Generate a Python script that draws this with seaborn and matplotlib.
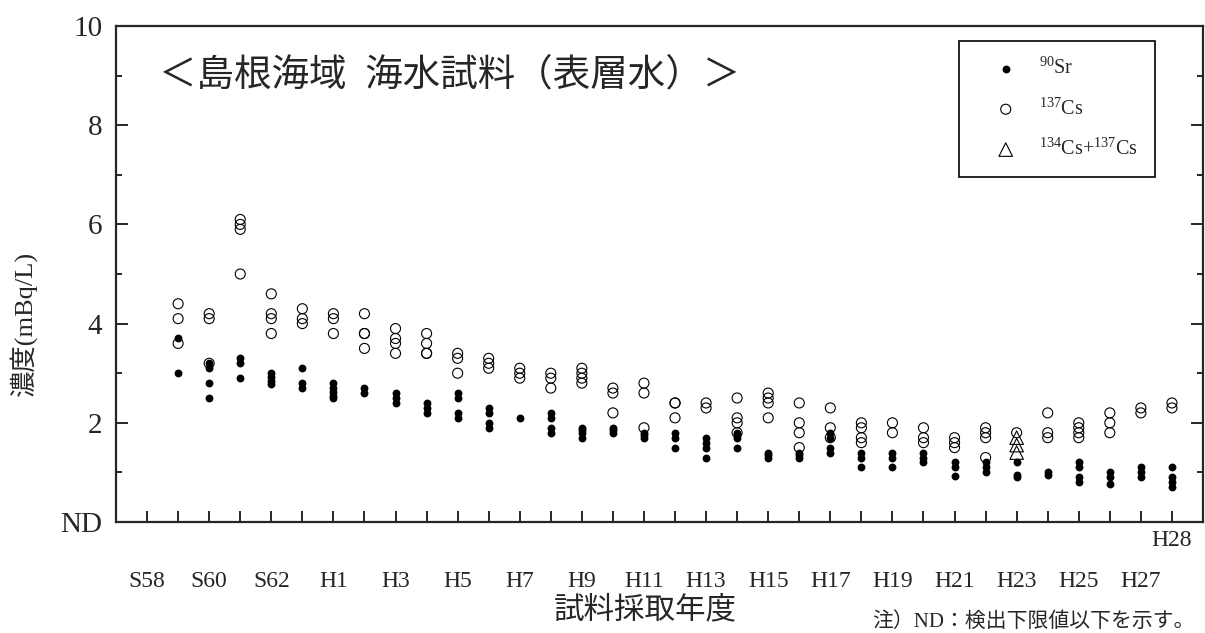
import matplotlib
matplotlib.use("Agg")
import matplotlib.pyplot as plt
import pandas as pd
import seaborn as sns

# ---------- data ----------
years = list(range(1984, 2017))          # S59 .. H28

sr90 = [
    [3.7, 3.0], [3.2, 3.1, 2.8, 2.5], [3.3, 3.2, 2.9], [3.0, 2.93, 2.85, 2.78],
    [3.1, 2.8, 2.7], [2.8, 2.7, 2.63, 2.55, 2.5], [2.7, 2.6], [2.6, 2.5, 2.4],
    [2.4, 2.3, 2.2], [2.6, 2.5, 2.2, 2.1], [2.3, 2.2, 2.0, 1.9], [2.1],
    [2.2, 2.1, 1.9, 1.8], [1.9, 1.85, 1.8, 1.7], [1.9, 1.85, 1.8], [1.8, 1.75, 1.7],
    [1.8, 1.7, 1.5], [1.7, 1.6, 1.5, 1.3], [1.8, 1.75, 1.7, 1.5], [1.4, 1.35, 1.3],
    [1.4, 1.35, 1.3], [1.8, 1.7, 1.5, 1.4], [1.4, 1.3, 1.1], [1.4, 1.3, 1.1],
    [1.4, 1.3, 1.2], [1.2, 1.1, 0.92], [1.2, 1.1, 1.0], [1.2, 0.95, 0.9],
    [1.0, 0.95], [1.2, 1.1, 0.9, 0.8], [1.0, 0.9, 0.77], [1.1, 1.0, 0.9],
    [1.1, 0.9, 0.8, 0.7],
]

cs137 = [
    [4.4, 4.1, 3.6], [4.2, 4.1, 3.2], [6.1, 6.0, 5.9, 5.0], [4.6, 4.2, 4.1, 3.8],
    [4.3, 4.1, 4.0], [4.2, 4.1, 3.8], [4.2, 3.8, 3.8, 3.5], [3.9, 3.7, 3.6, 3.4],
    [3.8, 3.6, 3.4, 3.4], [3.4, 3.3, 3.0], [3.3, 3.2, 3.1], [3.1, 3.0, 2.9],
    [3.0, 2.9, 2.7], [3.1, 3.0, 2.9, 2.8], [2.7, 2.6, 2.2], [2.8, 2.6, 1.9],
    [2.4, 2.4, 2.1], [2.4, 2.3], [2.5, 2.1, 2.0, 1.8], [2.6, 2.5, 2.4, 2.1],
    [2.4, 2.0, 1.8, 1.5], [2.3, 1.9, 1.7], [2.0, 1.9, 1.7, 1.6], [2.0, 1.8],
    [1.9, 1.7, 1.6], [1.7, 1.6, 1.5], [1.9, 1.8, 1.7, 1.3], [1.8],
    [2.2, 1.8, 1.7], [2.0, 1.9, 1.8, 1.7], [2.2, 2.0, 1.8], [2.3, 2.2],
    [2.4, 2.3],
]

cs_sum_year = [2011, 2011, 2011]
cs_sum = [1.7, 1.55, 1.4]

tick_years = list(range(1983, 2017))
tick_labels = ["S58", "", "S60", "", "S62", "", "H1", "", "H3", "", "H5", "", "H7", "",
               "H9", "", "H11", "", "H13", "", "H15", "", "H17", "", "H19", "", "H21", "",
               "H23", "", "H25", "", "H27", "H28"]
y_ticks = [0, 2, 4, 6, 8, 10]
y_labels = ["ND", "2", "4", "6", "8", "10"]


def to_long(values):
    rows = [(yr, v) for yr, vals in zip(years, values) for v in vals]
    return pd.DataFrame(rows, columns=["year", "value"])


sr_df = to_long(sr90)
cs_df = to_long(cs137)
sum_df = pd.DataFrame({"year": cs_sum_year, "value": cs_sum})

# ---------- style ----------
sns.set_style("ticks")
plt.rcParams["font.family"] = ["Liberation Serif", "Noto Sans CJK JP"]
plt.rcParams["mathtext.fontset"] = "custom"
plt.rcParams["mathtext.rm"] = "Liberation Serif"
plt.rcParams["mathtext.default"] = "regular"

fig = plt.figure(figsize=(12.05, 6.33), dpi=100)
ax = fig.add_axes([116 / 1205, 1 - 522 / 633, (1203 - 116) / 1205, (522 - 26) / 633])

sns.scatterplot(data=cs_df, x="year", y="value", marker="o", s=52, color="black",
                facecolor="none", edgecolor="black", linewidth=0.8,
                label=r"$^{137}$Cs", ax=ax, zorder=3)
sns.scatterplot(data=sr_df, x="year", y="value", marker="o", s=32, color="black",
                linewidth=0, label=r"$^{90}$Sr", ax=ax, zorder=4)
sns.scatterplot(data=sum_df, x="year", y="value", marker="^", s=95, color="black",
                facecolor="none", edgecolor="black", linewidth=0.8,
                label=r"$^{134}$Cs+$^{137}$Cs", ax=ax, zorder=3)

ax.set_xlim(1982, 2017)
ax.set_ylim(0, 10)

ax.set_xticks(tick_years)
ax.set_xticklabels(tick_labels, fontsize=17)
ax.set_yticks(y_ticks)
ax.set_yticks([1, 3, 5, 7, 9], minor=True)
ax.set_yticklabels(y_labels, fontsize=21)

ax.tick_params(axis="x", direction="in", length=8, width=1.4, pad=35)
ax.tick_params(axis="y", which="major", direction="in", length=8.5, width=1.4,
               pad=10, right=True)
ax.tick_params(axis="y", which="minor", direction="in", length=4.5, width=1.4,
               right=True)
ax.xaxis.get_major_ticks()[-1].set_pad(6)

for sp in ax.spines.values():
    sp.set_linewidth(1.6)
    sp.set_visible(True)

ax.set_xlabel("試料採取年度", fontsize=22)
ax.xaxis.set_label_coords(0.487, -0.15)
ax.set_ylabel("濃度(mBq/L)", fontsize=19)
ax.yaxis.set_label_coords(-0.073, 0.40)

ax.text(0.040, 0.90, "＜島根海域  海水試料（表層水）＞", transform=ax.transAxes,
        fontsize=27, ha="left", va="center")

handles, labels = ax.get_legend_handles_labels()
order = [1, 0, 2]
leg = ax.legend([handles[i] for i in order], [labels[i] for i in order],
                loc="upper right", bbox_to_anchor=(0.9557, 0.97), fontsize=14.5,
                frameon=True, fancybox=False, edgecolor="black", framealpha=1,
                borderpad=0.85, labelspacing=0.95, handlelength=2.9, handletextpad=0.2,
                borderaxespad=0)
leg.get_frame().set_linewidth(1.2)

fig.text(1195 / 1205, 1 - 622 / 633, "注）ND：検出下限値以下を示す。", fontsize=15,
         ha="right", va="center")

fig.savefig("out.png", dpi=100)
